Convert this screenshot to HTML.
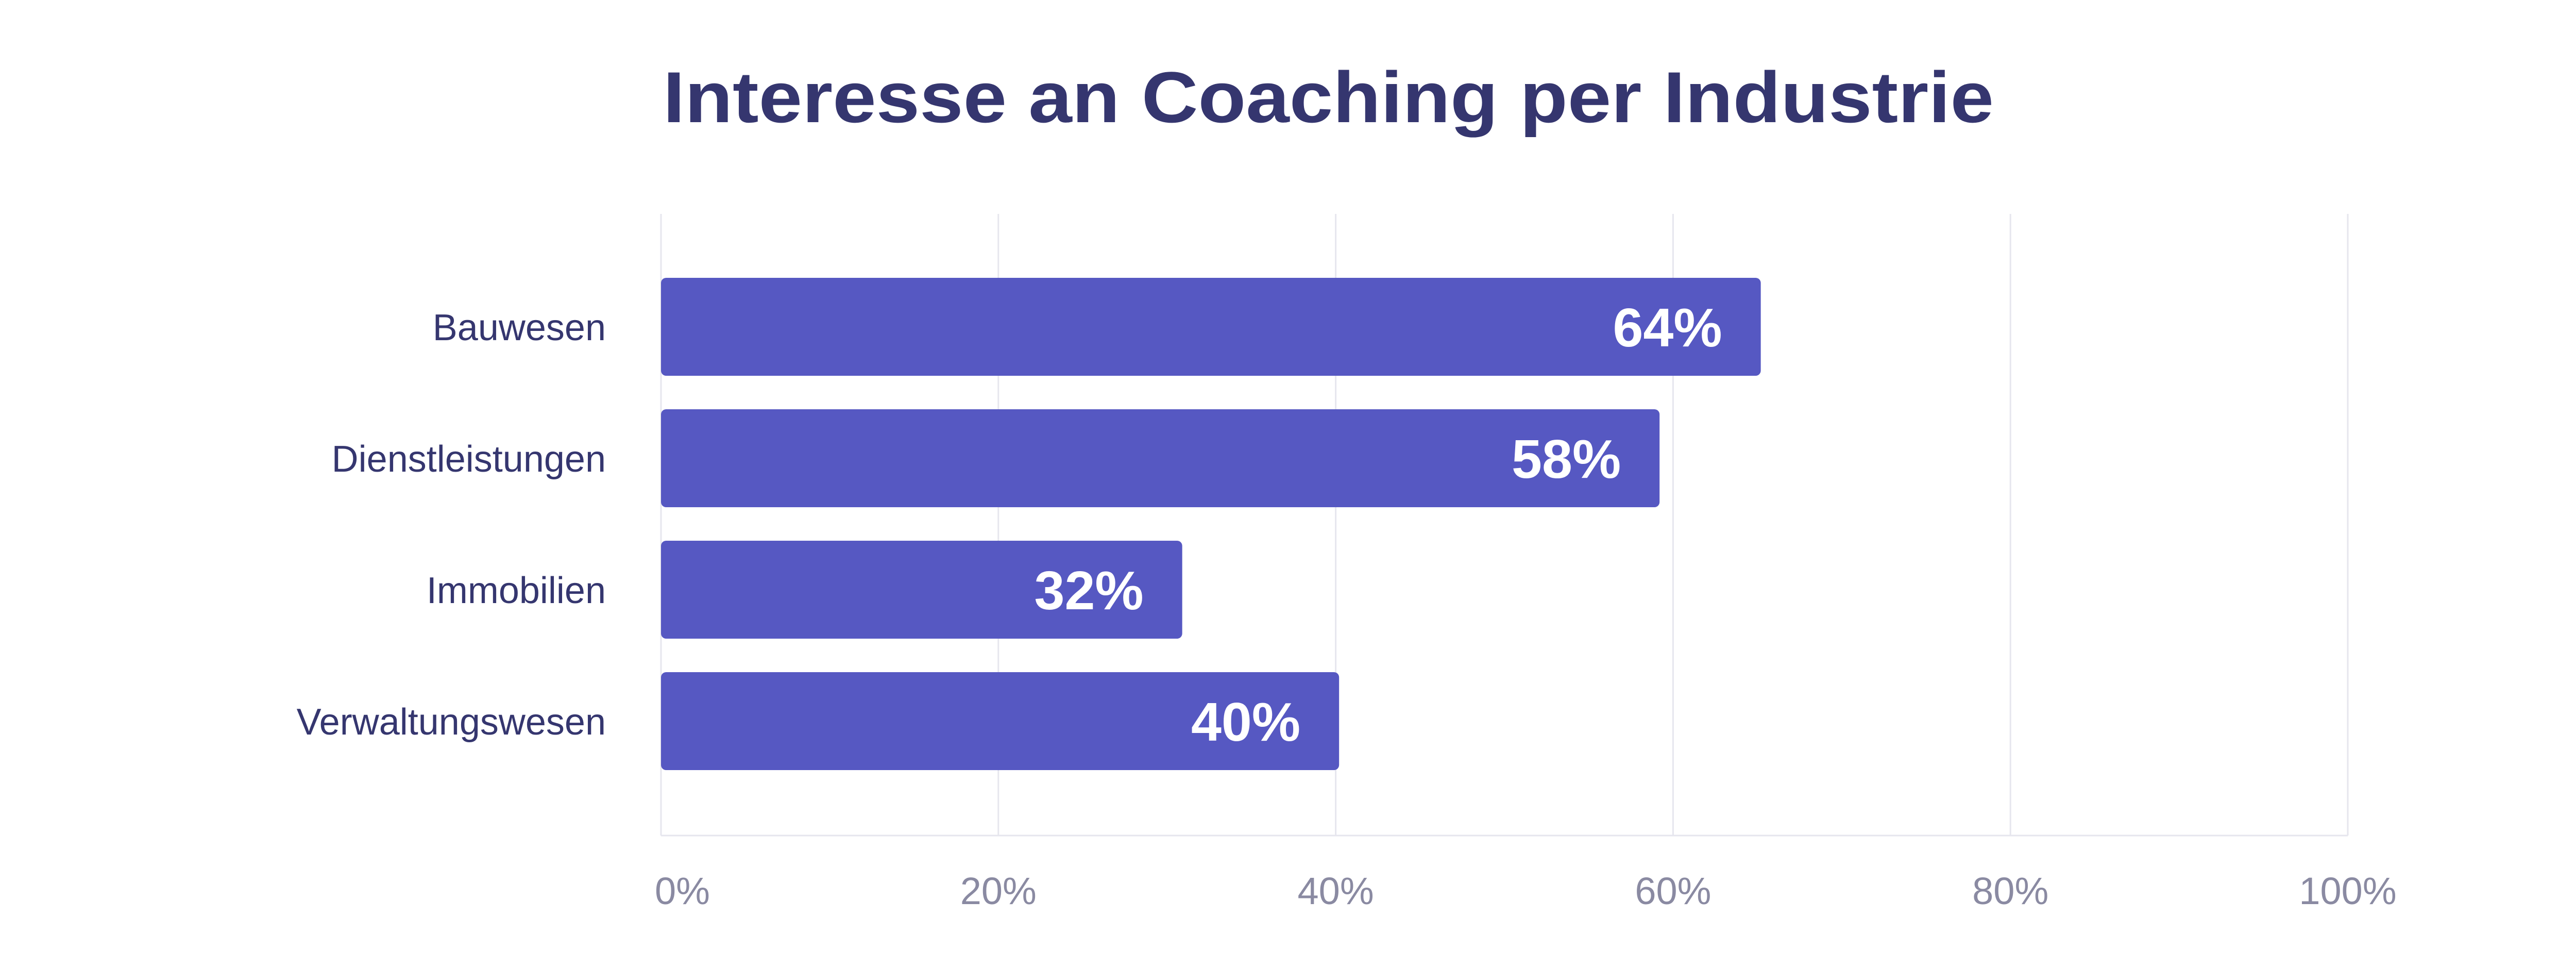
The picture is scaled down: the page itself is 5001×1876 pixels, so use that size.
<!DOCTYPE html>
<html><head><meta charset="utf-8"><style>
html,body{margin:0;padding:0;background:#fff}
svg{display:block}
</style></head><body>
<svg id="chart" width="5001" height="1876" viewBox="0 0 5001 1876" xmlns="http://www.w3.org/2000/svg" font-family="Liberation Sans, sans-serif">
<rect width="5001" height="1876" fill="#fff"/>
<text x="1287" y="237" font-size="140" font-weight="bold" fill="#35366f" textLength="2583" lengthAdjust="spacingAndGlyphs">Interesse an Coaching per Industrie</text>
<g id="grid"></g>
<g id="bars"></g>
<g id="ticks"></g>
</svg>
<script>
const categories = ["Bauwesen","Dienstleistungen","Immobilien","Verwaltungswesen"];
const values = [65.2, 59.2, 30.9, 40.2];
const valueLabels = ["64%","58%","32%","40%"];
const tickValues = [0,20,40,60,80,100];
const tickLabels = ["0%","20%","40%","60%","80%","100%"];

const NS="http://www.w3.org/2000/svg";
const x0=1283, x1=4557, gridTop=415, gridBottom=1621;
const bandTop=539, bandStep=255, barH=190;
const xs=v=>x0+(v/100)*(x1-x0);
const ys=i=>bandTop+i*bandStep;
function mk(tag,attrs,parent){const e=document.createElementNS(NS,tag);for(const k in attrs)e.setAttribute(k,attrs[k]);parent.appendChild(e);return e;}
const grid=document.getElementById('grid'),bars=document.getElementById('bars'),ticks=document.getElementById('ticks');
tickValues.forEach((t,i)=>{
  const l=mk('line',{x1:xs(t),x2:xs(t),y1:gridTop,y2:gridBottom,stroke:'#e6e6ee','stroke-width':3},grid);
  
  
  const tx=mk('text',{x:i===0?xs(t)-12:xs(t),y:1754,'font-size':74,fill:'#8a8aa2','text-anchor':i===0?'start':'middle'},ticks);
  tx.textContent=tickLabels[i];
  
  
});
const base=mk('line',{x1:x0,x2:x1,y1:gridBottom,y2:gridBottom,stroke:'#e6e6ee','stroke-width':3},grid);


categories.forEach((c,i)=>{
  const y=ys(i);
  const r=mk('rect',{x:x0,y:y,width:xs(values[i])-x0,height:barH,rx:10,fill:'#5658c2'},bars);
  
  
  const lab=mk('text',{x:1176,y:y+barH/2+26,'font-size':72,fill:'#35366f','text-anchor':'end'},bars);
  lab.textContent=c;
  
  
  const vl=mk('text',{x:xs(values[i])-75,y:y+barH/2+38,'font-size':106,'font-weight':'bold',fill:'#fff','text-anchor':'end'},bars);
  vl.textContent=valueLabels[i];
  
  
});
</script>
</body></html>
